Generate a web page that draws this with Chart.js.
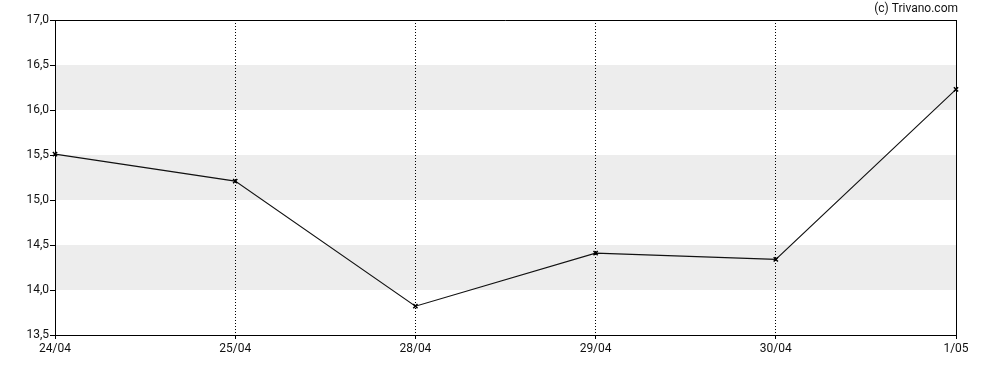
<!DOCTYPE html>
<html>
<head>
<meta charset="utf-8">
<script src="https://cdn.jsdelivr.net/npm/chart.js@4/dist/chart.umd.min.js"></script>
<style>
    html, body { margin: 0; padding: 0; background: #fff; }
    #wrap { width: 988px; height: 370px; position: relative; }
</style>
</head>
<body>
<div id="wrap"><canvas id="priceChart" width="988" height="370"></canvas></div>
<script>
const dates = ['24/04', '25/04', '28/04', '29/04', '30/04', '1/05'];
const prices = [15.51, 15.21, 13.82, 14.41, 14.34, 16.23];
const yMin = 13.5;
const yMax = 17.0;
const yStep = 0.5;
const bands = [[14.0, 14.5], [15.0, 15.5], [16.0, 16.5]];
const credit = '(c) Trivano.com';

// grey bands behind the line, plus the box round the plot and the credit text
const framePlugin = {
    id: 'frame',
    beforeDraw(chart) {
        const { ctx, chartArea, scales } = chart;
        ctx.save();
        ctx.fillStyle = '#ededed';
        bands.forEach(b => {
            const top = scales.y.getPixelForValue(b[1]);
            const bottom = scales.y.getPixelForValue(b[0]);
            ctx.fillRect(chartArea.left, top, chartArea.right - chartArea.left, bottom - top);
        });
        ctx.restore();
    },
    afterDraw(chart) {
        const { ctx, chartArea } = chart;
        ctx.save();
        ctx.strokeStyle = '#000';
        ctx.lineWidth = 1;
        ctx.beginPath();
        ctx.moveTo(chartArea.left, chartArea.top + 0.5);
        ctx.lineTo(chartArea.right + 0.5, chartArea.top + 0.5);
        ctx.lineTo(chartArea.right + 0.5, chartArea.bottom);
        ctx.stroke();
        ctx.fillStyle = '#111';
        ctx.font = '12px Roboto';
        ctx.textAlign = 'right';
        ctx.textBaseline = 'middle';
        ctx.fillText(credit, chartArea.right + 2, 9);
        ctx.restore();
    }
};

const ctx = document.getElementById('priceChart').getContext('2d');
const priceChart = new Chart(ctx, {
    type: 'line',
    data: {
        labels: dates,
        datasets: [{
            data: prices,
            borderColor: '#111',
            borderWidth: 1.1,
            pointStyle: 'crossRot',
            pointRadius: 3,
            pointBorderWidth: 1.5,
            pointBorderColor: '#000',
            tension: 0
        }]
    },
    options: {
        responsive: false,
        animation: false,
        layout: { padding: { top: 20, right: 32, left: 0, bottom: 0 } },
        plugins: {
            legend: { display: false },
            tooltip: { enabled: false }
        },
        scales: {
            x: {
                offset: false,
                afterFit(scale) { scale.height = 35; },
                grid: {
                    color: '#000',
                    lineWidth: 1,
                    tickLength: 4,
                    drawOnChartArea: true
                },
                // dash here sets the dotted vertical grid lines
                border: { color: '#000', width: 1, dash: [1, 2] },
                ticks: {
                    color: '#111',
                    font: { family: 'Roboto', size: 12 },
                    padding: 3,
                    maxRotation: 0,
                    autoSkip: false
                }
            },
            y: {
                min: yMin,
                max: yMax,
                afterFit(scale) { scale.width = 55; },
                border: { color: '#000', width: 1 },
                grid: {
                    drawOnChartArea: false,
                    color: '#000',
                    tickLength: 5
                },
                ticks: {
                    stepSize: yStep,
                    color: '#111',
                    font: { family: 'Roboto', size: 12 },
                    padding: 1,
                    callback: v => v.toFixed(1).replace('.', ',')
                }
            }
        }
    },
    plugins: [framePlugin]
});
</script>
</body>
</html>
